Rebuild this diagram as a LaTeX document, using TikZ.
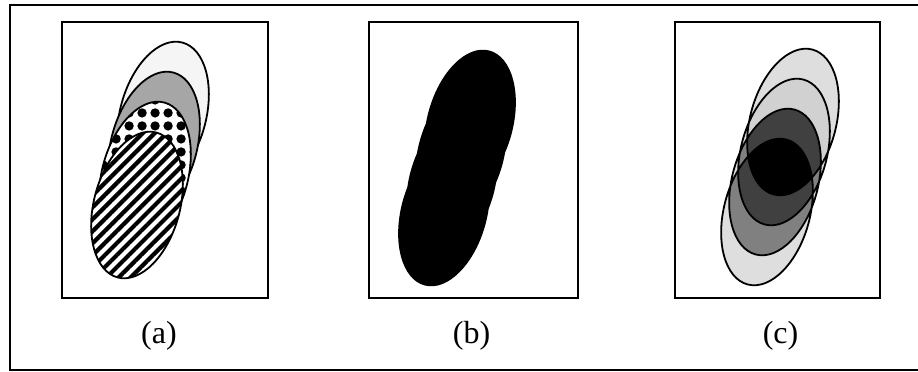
\documentclass[tikz,border=0pt]{standalone}
\usepackage{fontspec}
\setmainfont{Liberation Serif}
\usetikzlibrary{positioning,patterns.meta}
\tikzset{
	x=1pt, y=1pt, % one unit is one pixel of the figure
	egg/.style={x radius=43pt, y radius=75pt, rotate=-15}, % the same tilted ellipse everywhere
	my frame/.style={line width=2.4pt}
}
\newcommand{\egg}[2]{(#1,#2) ellipse [egg]}

\begin{document}
\begin{tikzpicture}
	\tikzset{my box/.style = {rectangle, draw, line width=2.8pt, minimum width=#1, minimum height=276pt, inner sep=0pt}}
	\tikzset{my outline/.style = {draw, line width=1.8pt}}
	\tikzset{my label/.style = {inner sep=0pt, font=\fontsize{32}{34}\selectfont}}
	\useasboundingbox (0,0) rectangle (918,372);
	\draw[my frame] (918,367) -- (10,367) -- (10,2) -- (918,2);
	\node[my box=206pt] (pa) at (165,212) {};
	\node[my box=209pt] (pb) at (473.5,212) {};
	\node[my box=205pt] (pc) at (777.5,212) {};
	% (a) the four layers
	\draw[my outline, fill=black!4] \egg{163}{257};
	\draw[my outline, fill=black!35] \egg{154}{227};
	\draw[my outline, fill=white, postaction={pattern={Dots[radius=5pt, distance=13pt]}}] \egg{145}{197};
	\draw[my outline, fill=white, postaction={pattern={Lines[angle=45, distance=8.5pt, line width=4.2pt]}}] \egg{137}{167};
	% (b) their union
	\fill[black] \egg{470}{249} \egg{461}{219} \egg{452}{189} \egg{444}{159};
	% (c) overlaps
	\fill[black!13] \egg{793}{250} \egg{784}{220} \egg{775}{190} \egg{767}{160};
	\begin{scope}
		\clip \egg{784}{220};
		\fill[black!50] \egg{775}{190};
	\end{scope}
	\begin{scope}
		\clip \egg{793}{250};
		\fill[black!18] \egg{784}{220};
	\end{scope}
	\begin{scope}
		\clip \egg{775}{190};
		\fill[black!50] \egg{767}{160};
	\end{scope}
	\begin{scope}
		\clip \egg{793}{250};
		\clip \egg{784}{220};
		\fill[black!75] \egg{775}{190};
	\end{scope}
	\begin{scope}
		\clip \egg{784}{220};
		\clip \egg{775}{190};
		\fill[black!75] \egg{767}{160};
	\end{scope}
	\begin{scope}
		\clip \egg{793}{250};
		\clip \egg{784}{220};
		\clip \egg{775}{190};
		\fill[black] \egg{767}{160};
	\end{scope}
	\draw[my outline] \egg{793}{250} \egg{784}{220} \egg{775}{190} \egg{767}{160};
	\node[my label] (la) at (159,36.5) {(a)};
	\node[my label] (lb) at (471.5,36.5) {(b)};
	\node[my label] (lc) at (780.5,36.5) {(c)};
\end{tikzpicture}
\end{document}
